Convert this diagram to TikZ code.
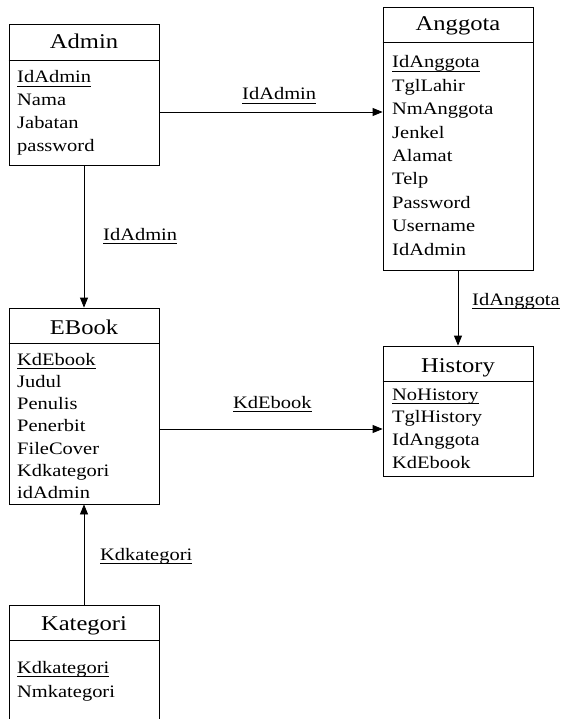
\documentclass[tikz,border=0pt]{standalone}
\usepackage{fontspec}
\setmainfont[FakeStretch=1.17]{Liberation Serif}
\usetikzlibrary{arrows.meta}
\newsavebox{\pkbox}
\newcommand{\pk}[1]{\sbox{\pkbox}{#1}\rlap{\vrule width\wd\pkbox height-2.6pt depth3.3pt}\usebox{\pkbox}}

\begin{document}
\begin{tikzpicture}[x=1pt, y=-1pt,
        entity/.style={draw, line width=0.8pt, minimum width=150pt, inner sep=0pt},
        etitle/.style={font=\fontsize{21}{25}\selectfont, anchor=base, inner sep=0pt},
        attr/.style={font=\fontsize{17.5}{23}\selectfont, anchor=base west, inner sep=0pt},
        rel/.style={line width=0.8pt, -{Triangle[length=10pt, width=8pt]}},
        rellabel/.style={font=\fontsize{17.5}{23}\selectfont, anchor=base west, inner sep=0pt}
    ]
        \useasboundingbox (0,0) rectangle (561,719);
        % Admin
        \node[entity, minimum height=141pt] (admin) at (84,94.5) {};
        \draw[line width=0.8pt] (admin.west |- 0,60) -- (admin.east |- 0,60);
        \node[etitle] (admin-t) at (84,49) {Admin};
        \foreach \a [count=\i from 0] in {\pk{IdAdmin}, Nama, Jabatan, password} {
            \node[attr] (admin-\i) at (17, 83+\i*23) {\a};
        }
        % Anggota
        \node[entity, minimum height=263pt] (anggota) at (458,138.5) {};
        \draw[line width=0.8pt] (anggota.west |- 0,42) -- (anggota.east |- 0,42);
        \node[etitle] (anggota-t) at (458,31) {Anggota};
        \foreach \a [count=\i from 0] in {\pk{IdAnggota}, TglLahir, NmAnggota, Jenkel, Alamat, Telp, Password, Username, IdAdmin} {
            \node[attr] (anggota-\i) at (392, 68+\i*23.4) {\a};
        }
        % EBook
        \node[entity, minimum height=196pt] (ebook) at (84,406) {};
        \draw[line width=0.8pt] (ebook.west |- 0,343) -- (ebook.east |- 0,343);
        \node[etitle] (ebook-t) at (84,334) {EBook};
        \foreach \a [count=\i from 0] in {\pk{KdEbook}, Judul, Penulis, Penerbit, FileCover, Kdkategori, idAdmin} {
            \node[attr] (ebook-\i) at (17, 365+\i*22.3) {\a};
        }
        % History
        \node[entity, minimum height=130pt] (history) at (458,411) {};
        \draw[line width=0.8pt] (history.west |- 0,381) -- (history.east |- 0,381);
        \node[etitle] (history-t) at (458,372) {History};
        \foreach \a [count=\i from 0] in {\pk{NoHistory}, TglHistory, IdAnggota, KdEbook} {
            \node[attr] (history-\i) at (392, 400+\i*22.7) {\a};
        }
        % Kategori (runs off the bottom edge)
        \draw[line width=0.8pt] (9,719) -- (9,605) -- (159,605) -- (159,719);
        \coordinate (kategori) at (84,605);
        \draw[line width=0.8pt] (9,640) -- (159,640);
        \node[etitle] (kategori-t) at (84,630) {Kategori};
        \foreach \a [count=\i from 0] in {\pk{Kdkategori}, Nmkategori} {
            \node[attr] (kategori-\i) at (17, 673+\i*24) {\a};
        }
        % Relations
        \draw[rel] ([yshift=-17.5pt]admin.east) -- ([yshift=-17.5pt]admin.east -| anggota.west);
        \node[rellabel] (l-admin1) at (242,100) {\pk{IdAdmin}};
        \draw[rel] (admin.south) -- (ebook.north);
        \node[rellabel] (l-admin2) at (103,240.7) {\pk{IdAdmin}};
        \draw[rel] (anggota.south) -- (history.north);
        \node[rellabel] (l-anggota) at (472,305) {\pk{IdAnggota}};
        \draw[rel] ([yshift=-23pt]ebook.east) -- ([yshift=-23pt]ebook.east -| history.west);
        \node[rellabel] (l-ebook) at (233,408) {\pk{KdEbook}};
        \draw[rel] (kategori) -- (ebook.south);
        \node[rellabel] (l-kategori) at (100,560) {\pk{Kdkategori}};
\end{tikzpicture}
\end{document}
